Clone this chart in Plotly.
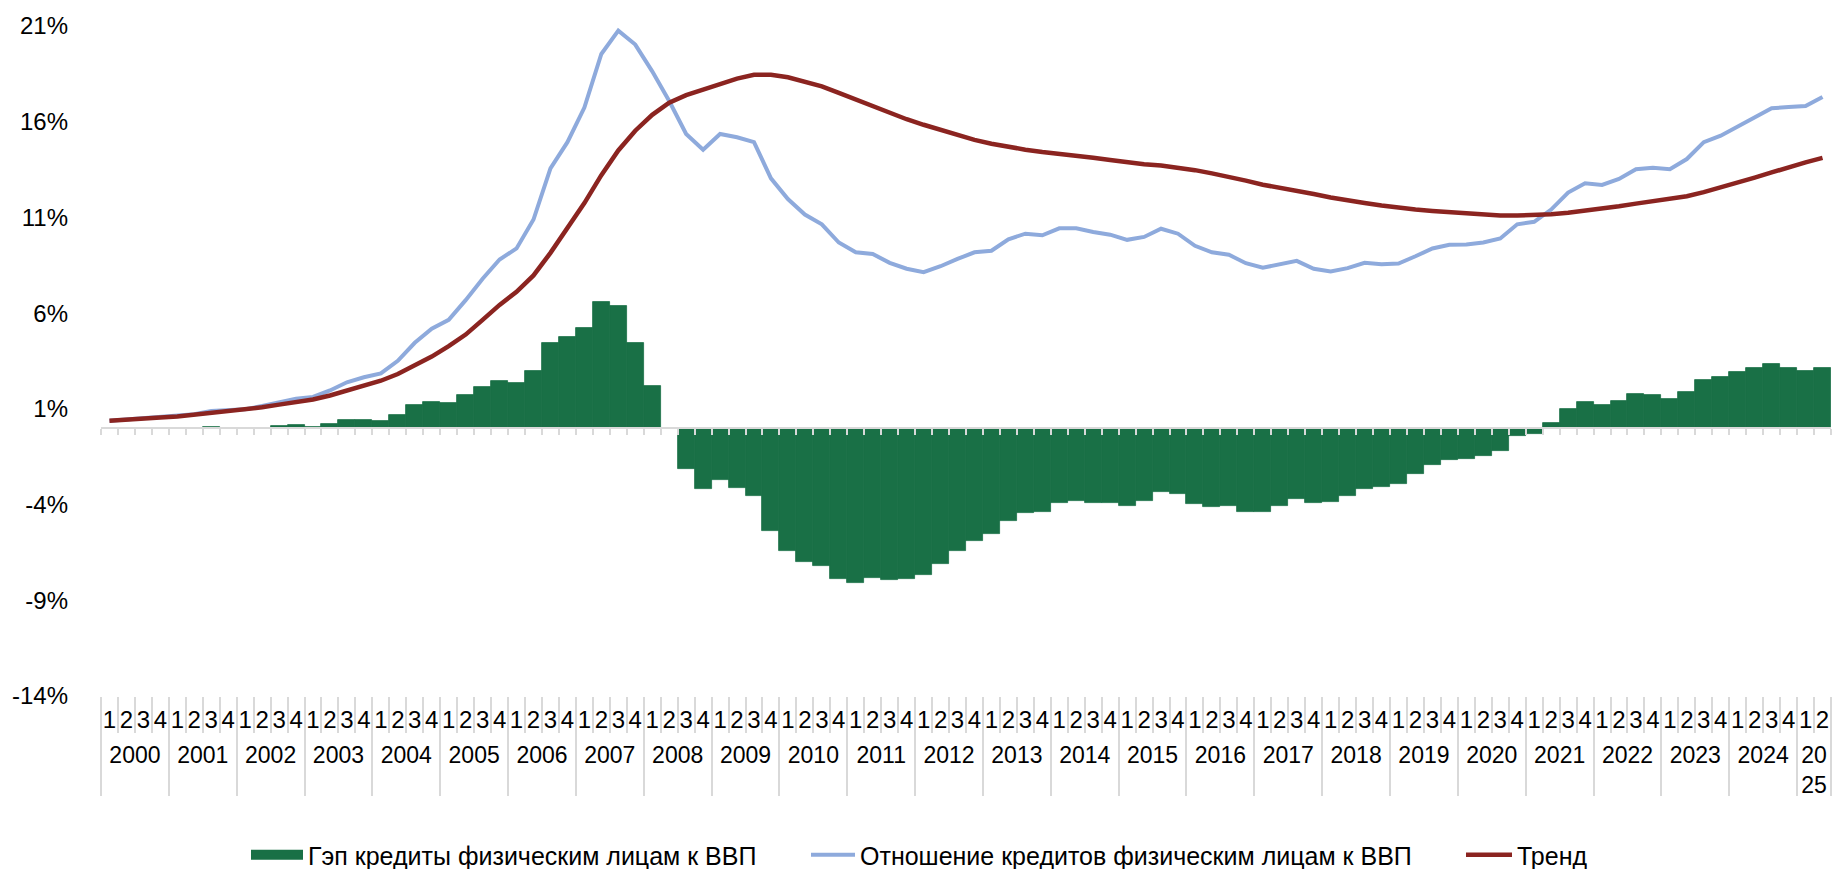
import plotly.graph_objects as go

# ---------------- data ----------------
years = [str(y) for y in range(2000, 2026)]
year_labels = years[:-1] + ["20<br>25"]
quarters_per_year = [4] * 25 + [2]
quarter_labels = ["1", "2", "3", "4"]

# Гэп кредиты физическим лицам к ВВП (п.п.)
gap = [
    0.01, 0.00, 0.00, 0.00, 0.00, 0.01, 0.03, 0.00, 0.00, 0.02,
    0.10, 0.14, 0.06, 0.22, 0.41, 0.40, 0.36, 0.70, 1.20, 1.37,
    1.32, 1.74, 2.16, 2.46, 2.35, 2.97, 4.45, 4.78, 5.22, 6.56,
    6.36, 4.43, 2.18, 0.00, -2.15, -3.20, -2.71, -3.11, -3.57, -5.38,
    -6.41, -6.99, -7.22, -7.90, -8.08, -7.85, -7.96, -7.90, -7.68, -7.08,
    -6.43, -5.88, -5.55, -4.84, -4.42, -4.38, -3.92, -3.83, -3.90, -3.92,
    -4.05, -3.80, -3.32, -3.44, -3.95, -4.14, -4.09, -4.38, -4.40, -4.05,
    -3.73, -3.92, -3.87, -3.57, -3.18, -3.09, -2.94, -2.42, -1.94, -1.68,
    -1.60, -1.46, -1.20, -0.43, -0.31, 0.26, 1.01, 1.37, 1.22, 1.41,
    1.77, 1.72, 1.51, 1.87, 2.53, 2.65, 2.90, 3.16, 3.33, 3.16,
    2.96, 3.13,
]

# Отношение кредитов физическим лицам к ВВП (%)
ratio = [
    0.38, 0.45, 0.50, 0.56, 0.62, 0.72, 0.89, 0.93, 0.98, 1.15,
    1.36, 1.53, 1.62, 1.96, 2.39, 2.65, 2.85, 3.51, 4.45, 5.19,
    5.65, 6.68, 7.80, 8.80, 9.38, 10.89, 13.56, 14.93, 16.74, 19.54,
    20.76, 20.03, 18.63, 17.08, 15.36, 14.54, 15.36, 15.19, 14.93, 13.04,
    11.96, 11.15, 10.64, 9.69, 9.18, 9.09, 8.63, 8.32, 8.14, 8.45,
    8.83, 9.18, 9.26, 9.86, 10.15, 10.07, 10.43, 10.43, 10.24, 10.10,
    9.83, 9.98, 10.41, 10.15, 9.52, 9.18, 9.05, 8.61, 8.37, 8.54,
    8.73, 8.32, 8.18, 8.35, 8.63, 8.56, 8.59, 8.97, 9.38, 9.57,
    9.59, 9.69, 9.90, 10.64, 10.77, 11.41, 12.30, 12.78, 12.70, 13.01,
    13.52, 13.59, 13.52, 14.05, 14.93, 15.27, 15.76, 16.22, 16.70, 16.77,
    16.82, 17.29,
]

# Тренд (%)
trend = [
    0.38, 0.45, 0.50, 0.55, 0.60, 0.69, 0.79, 0.89, 0.96, 1.08,
    1.22, 1.36, 1.49, 1.70, 1.96, 2.22, 2.47, 2.82, 3.25, 3.73,
    4.28, 4.88, 5.65, 6.43, 7.11, 7.97, 9.15, 10.46, 11.75, 13.21,
    14.50, 15.53, 16.36, 16.99, 17.39, 17.68, 17.97, 18.25, 18.45, 18.45,
    18.32, 18.11, 17.85, 17.51, 17.16, 16.82, 16.48, 16.13, 15.84, 15.57,
    15.27, 15.05, 14.85, 14.67, 14.54, 14.42, 14.33, 14.23, 14.12, 14.00,
    13.88, 13.78, 13.71, 13.61, 13.47, 13.30, 13.13, 12.92, 12.71, 12.56,
    12.41, 12.22, 12.04, 11.87, 11.75, 11.62, 11.49, 11.41, 11.34, 11.27,
    11.20, 11.15, 11.10, 11.10, 11.12, 11.17, 11.24, 11.34, 11.46, 11.58,
    11.72, 11.86, 11.98, 12.11, 12.32, 12.56, 12.80, 13.08, 13.35, 13.63,
    13.88, 14.11,
]

y_ticks = [-14, -9, -4, 1, 6, 11, 16, 21]

names = [
    "Гэп кредиты физическим лицам к ВВП",
    "Отношение кредитов физическим лицам к ВВП",
    "Тренд",
]

GREEN = "#197046"
BLUE = "#8EAADC"
RED = "#8B2420"
GRAY = "#D9D9D9"
FONT = "Liberation Sans, Arial, sans-serif"
W, H = 1843, 869

# ---------------- category positions (derived from the quarter structure) ----------------
q_text = []            # quarter label of each period
year_centers = []      # centre position of each year group
year_edges = [-0.5]    # boundaries between year groups
pos = 0
for n in quarters_per_year:
    q_text.extend(quarter_labels[:n])
    year_centers.append(pos + (n - 1) / 2)
    pos += n
    year_edges.append(pos - 0.5)
n_cat = len(q_text)
idx = list(range(n_cat))
q_edges = [i - 0.5 for i in range(n_cat + 1)]
x_range = [-0.5, n_cat - 0.5]

fig = go.Figure()
fig.add_trace(go.Bar(
    x=idx, y=gap, name=names[0], showlegend=False,
    marker=dict(color=GREEN, line=dict(width=0.8, color=GREEN)),
    hovertemplate="%{y:.2f}%<extra></extra>",
))
# legend swatch for the bars (no data points)
fig.add_trace(go.Scatter(
    x=[None], y=[None], xaxis="x2", mode="lines", name=names[0],
    line=dict(color=GREEN, width=14), legend="legend", hoverinfo="skip",
))
fig.add_trace(go.Scatter(
    x=idx, y=ratio, xaxis="x2", mode="lines", name=names[1],
    line=dict(color=BLUE, width=4), legend="legend2",
))
fig.add_trace(go.Scatter(
    x=idx, y=trend, xaxis="x3", mode="lines", name=names[2],
    line=dict(color=RED, width=4.5), legend="legend3",
))

y_min, y_max = -14, 21


def leg(x_px, itemwidth):
    return dict(
        orientation="h", xref="container", yref="container",
        x=x_px / W, xanchor="left", y=1 - 855 / H, yanchor="middle",
        font=dict(size=25, color="black"), itemwidth=itemwidth,
        bgcolor="rgba(0,0,0,0)", borderwidth=0,
    )


common_x = dict(range=x_range, showgrid=False, zeroline=False, fixedrange=True)

fig.update_layout(
    width=W, height=H,
    margin=dict(l=86, r=12, t=20, b=173),
    paper_bgcolor="white", plot_bgcolor="white",
    font=dict(family=FONT, size=24, color="black"),
    bargap=0, bargroupgap=0,
    showlegend=True,
    legend=leg(246, 52),
    legend2=leg(806, 44),
    legend3=leg(1461, 46),
    # quarter labels + short separators between quarters
    xaxis=dict(
        **common_x, type="linear", showline=False,
        tickmode="array", tickvals=idx, ticktext=q_text, ticks="",
        tickangle=0, tickfont=dict(size=24, color="black"),
        ticklabelstandoff=7,
        minor=dict(tickmode="array", tickvals=q_edges, ticks="outside",
                   ticklen=36, tickwidth=1.5, tickcolor=GRAY, showgrid=False),
    ),
    # zero axis line with small ticks
    xaxis2=dict(
        **common_x, type="linear", overlaying="x", anchor="free",
        position=(0 - y_min) / (y_max - y_min),
        showline=True, linecolor=GRAY, linewidth=2,
        tickmode="array", tickvals=q_edges, ticks="outside", ticklen=6,
        tickwidth=1.5, tickcolor=GRAY, showticklabels=False,
    ),
    # year labels + long year dividers
    xaxis3=dict(
        **common_x, type="linear", overlaying="x", anchor="free", position=0,
        showline=False,
        tickmode="array", tickvals=year_centers, ticktext=year_labels,
        ticks="", tickangle=0, tickfont=dict(size=23, color="black"),
        ticklabelstandoff=43,
        minor=dict(tickmode="array", tickvals=year_edges, ticks="outside",
                   ticklen=99, tickwidth=1.5, tickcolor=GRAY, showgrid=False),
    ),
    yaxis=dict(
        range=[y_min, y_max], fixedrange=True,
        tickmode="array", tickvals=y_ticks,
        ticktext=[f"{v}%" for v in y_ticks],
        showgrid=False, zeroline=False, showline=False, ticks="",
        tickfont=dict(size=24, color="black"),
        ticklabelstandoff=32,
    ),
)

fig.write_html("out.html", include_plotlyjs=True,
               config={"displayModeBar": False},
               post_script="document.body.style.margin='0';")
